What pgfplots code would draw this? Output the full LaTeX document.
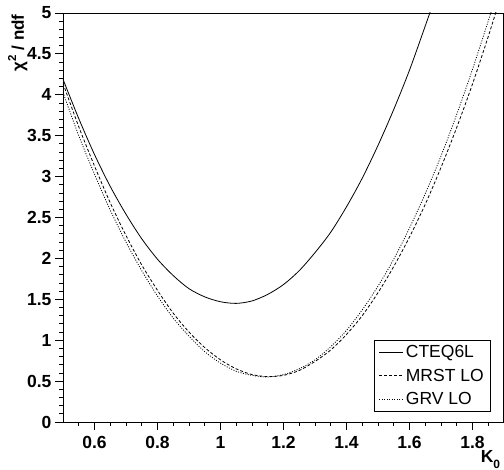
\documentclass[border=0pt]{standalone}
\usepackage{pgfplots}
\pgfplotsset{compat=1.18}
\usepackage{fontspec}
\setmainfont{Liberation Sans}
\begin{document}
\begin{tikzpicture}
\begin{axis}[
  scale only axis, width=440pt, height=409pt,
  xmin=0.5, xmax=1.897, ymin=0, ymax=5,
  clip mode=individual,
  axis line style={line width=0.9pt},
  tick align=outside, tick pos=left,
  xtick={0.6,0.8,1,1.2,1.4,1.6,1.8},
  ytick={0,0.5,1,1.5,2,2.5,3,3.5,4,4.5,5},
  minor xtick={0.55,0.6,...,1.86},
  minor ytick={0,0.1,...,5.01},
  major tick length=8pt, minor tick length=4pt,
  every tick/.style={black, line width=0.8pt},
  xticklabel={\pgfmathprintnumber[assume math mode=true]{\tick}},
  yticklabel={\pgfmathprintnumber[assume math mode=true]{\tick}},
  ticklabel style={font=\fontsize{17.5}{17.5}\selectfont\bfseries},
  xticklabel style={yshift=-2.5pt},
  yticklabel style={xshift=0pt},
  legend style={at={(0.972,0.027)}, anchor=south east, draw=black, line width=0.8pt,
    outer sep=0pt,
    font=\fontsize{17.5}{17.5}\selectfont, inner xsep=5pt, inner ysep=2.5pt,
    row sep=6pt},
  legend cell align=left,
  legend image code/.code={\draw[#1] (0pt,0pt) -- (24pt,0pt);},
]
\addplot[black, line width=0.8pt, smooth] coordinates {
(0.50,4.19) (0.55,3.71) (0.60,3.27) (0.65,2.88) (0.70,2.54) (0.75,2.24)
(0.80,1.99) (0.85,1.79) (0.90,1.63) (0.95,1.53) (1.00,1.47) (1.05,1.45)
(1.10,1.48) (1.15,1.56) (1.20,1.68) (1.25,1.85) (1.30,2.07) (1.35,2.32)
(1.40,2.63) (1.45,2.98) (1.50,3.38) (1.55,3.82) (1.60,4.30) (1.65,4.84) (1.67,5.06)
};
\addlegendentry{CTEQ6L}
\addplot[black, line width=0.8pt, dash pattern=on 3pt off 2pt, smooth] coordinates {
(0.50,4.14) (0.55,3.61) (0.60,3.13) (0.65,2.68) (0.70,2.28) (0.75,1.92)
(0.80,1.61) (0.85,1.33) (0.90,1.10) (0.95,0.91) (1.00,0.76) (1.05,0.65)
(1.10,0.58) (1.15,0.555) (1.20,0.57) (1.25,0.63) (1.30,0.74) (1.35,0.88)
(1.40,1.07) (1.45,1.30) (1.50,1.58) (1.55,1.90) (1.60,2.26) (1.65,2.66)
(1.70,3.11) (1.75,3.60) (1.80,4.13) (1.85,4.71) (1.88,5.08)
};
\addlegendentry{MRST LO}
\addplot[black, line width=0.8pt, dash pattern=on 1pt off 1.5pt, smooth] coordinates {
(0.50,4.03) (0.55,3.50) (0.60,3.03) (0.65,2.59) (0.70,2.20) (0.75,1.85)
(0.80,1.54) (0.85,1.27) (0.90,1.05) (0.95,0.86) (1.00,0.72) (1.05,0.62)
(1.10,0.57) (1.15,0.55) (1.20,0.58) (1.25,0.65) (1.30,0.76) (1.35,0.92)
(1.40,1.12) (1.45,1.37) (1.50,1.66) (1.55,1.99) (1.60,2.37) (1.65,2.79)
(1.70,3.25) (1.75,3.76) (1.80,4.31) (1.85,4.90) (1.87,5.15)
};
\addlegendentry{GRV LO}
\node[anchor=east, font=\fontsize{17.5}{17.5}\selectfont\bfseries, inner sep=0pt]
  at (axis description cs:0.994,-0.092) {K\raisebox{-0.3em}{\fontsize{12}{12}\selectfont 0}};
\node[anchor=east, rotate=90, font=\fontsize{17}{17}\selectfont\bfseries, inner sep=0pt]
  at (axis description cs:-0.103,0.997) {χ\raisebox{0.45em}{\fontsize{11.5}{11.5}\selectfont 2} / ndf};
\coordinate (bl) at (rel axis cs:0,0);
\end{axis}
\path (bl) ++(-63pt,-48pt) rectangle ++(504pt,470pt);
\end{tikzpicture}
\end{document}
